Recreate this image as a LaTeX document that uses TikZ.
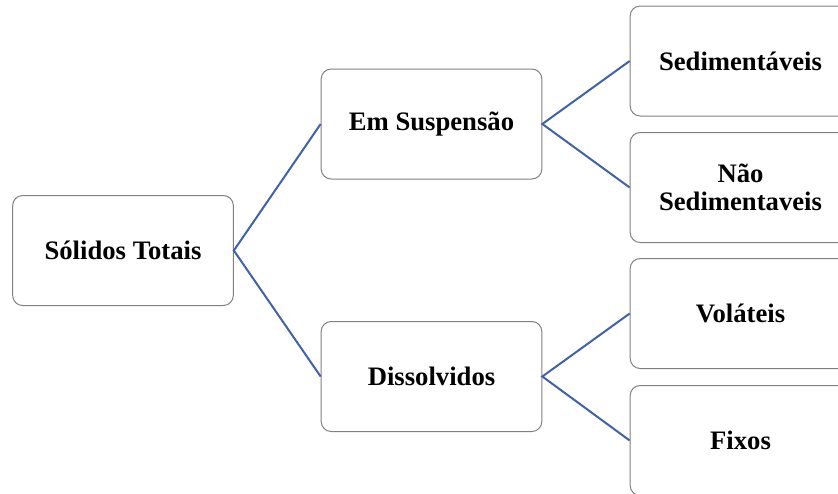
\documentclass[tikz,border=0pt]{standalone}
\usepackage{fontspec}
\setmainfont{Liberation Serif}
\definecolor{boxgray}{RGB}{128,128,128}
\definecolor{linkblue}{RGB}{63,98,168}

\begin{document}
\begin{tikzpicture}[
        x=0.75pt,
        y=-0.75pt,
        every node/.style={
            draw=boxgray,
            line width=0.75pt,
            rounded corners=7.5pt,
            fill=white,
            minimum width=165.5pt,
            minimum height=82.5pt,
            align=center,
            font=\fontsize{20}{20.5}\selectfont\bfseries
        },
        branch/.style={
            draw=linkblue,
            line width=1.5pt
        }
    ]

        \useasboundingbox (0,0) rectangle (838,493);
        \clip (0,0) rectangle (838,493);

        \node (tot)  at (123,250.5)   {Sólidos Totais};
        \node (susp) at (431.5,124)   {Em Suspensão};
        \node (diss) at (431.5,376.5) {Dissolvidos};
        \node (sed)  at (740.5,61)    {Sedimentáveis};
        \node (nsed) at (740.5,187.5) {Não\\Sedimentaveis};
        \node (vol)  at (740.5,313.5) {Voláteis};
        \node (fix)  at (740.5,440.5) {Fixos};

        \draw[branch] (susp.west) -- (tot.east) -- (diss.west);
        \draw[branch] (sed.west) -- (susp.east) -- (nsed.west);
        \draw[branch] (vol.west) -- (diss.east) -- (fix.west);
    \end{tikzpicture}
\end{document}
